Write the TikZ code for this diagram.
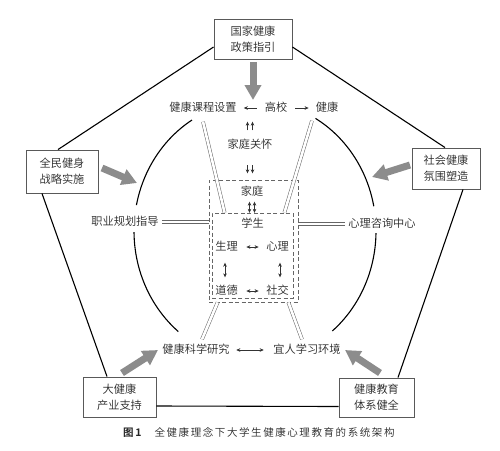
\documentclass[tikz,border=0pt]{standalone}
\usepackage{fontspec}
\setmainfont{Noto Sans CJK SC}[UprightFont=* DemiLight, BoldFont=* Bold]
\usetikzlibrary{arrows.meta}
\begin{document}
\begin{tikzpicture}[x=1pt,y=-1pt,
  every node/.style={font=\fontsize{11.2}{16}\selectfont, inner sep=0pt, text=black!85},
  txt/.style={text height=9pt, text depth=2pt},
  pbox/.style={draw=black!65, line width=0.9pt, align=center, fill=white},
  pent/.style={draw=black, line width=1.1pt},
  arcline/.style={draw=black, line width=1.1pt},
  fat/.style={draw=black!45, line width=7pt, -{Triangle[length=15pt,width=16pt]}},
  dbl/.style={draw=black!60, double=white, double distance=2.6pt, line width=0.5pt},
  sarr/.style={draw=black!80, line width=0.55pt, -{Stealth[length=4pt,width=3.6pt]}},
  barr/.style={draw=black!80, line width=0.55pt, {Stealth[length=4pt,width=3.6pt]}-{Stealth[length=4pt,width=3.6pt]}},
  dbox/.style={draw=black!60, line width=0.8pt, dash pattern=on 4pt off 2.5pt},
]
\useasboundingbox (0,0) rectangle (500,450);

% outer boxes
\node[pbox, minimum width=78pt, minimum height=40pt] (top) at (253,39) {国家健康\\政策指引};
\node[pbox, minimum width=72pt, minimum height=43pt] (lb) at (62,171.5) {全民健身\\战略实施};
\node[pbox, minimum width=68pt, minimum height=41pt] (rb) at (446,168.5) {社会健康\\氛围塑造};
\node[pbox, minimum width=73pt, minimum height=40pt] (bl) at (119.5,397) {大健康\\产业支持};
\node[pbox, minimum width=75pt, minimum height=39pt] (br) at (376.5,397.5) {健康教育\\体系健全};

% pentagon
\draw[pent] ([yshift=-8pt]top.west) -- ([xshift=-4pt]lb.north);
\draw[pent] ([yshift=-8pt]top.east) -- ([xshift=-1pt]rb.north);
\draw[pent] ([xshift=-20pt]lb.south) -- ([xshift=-12.5pt]bl.north);
\draw[pent] ([xshift=17pt]rb.south) -- ([xshift=21.5pt]br.north);
\draw[pent] ([yshift=-9pt]bl.east) -- ([yshift=-9pt]br.west);

% ellipse arcs
\coordinate (ec) at (255,231);
\draw[arcline] ([shift={(238.6:121 and 130)}]ec) arc[start angle=238.6, end angle=191.5, x radius=121, y radius=130];
\draw[arcline] ([shift={(179.5:121 and 130)}]ec) arc[start angle=179.5, end angle=129.3, x radius=121, y radius=130];
\draw[arcline] ([shift={(300:121 and 130)}]ec) arc[start angle=300, end angle=349, x radius=121, y radius=130];
\draw[arcline] ([shift={(0.9:121 and 130)}]ec) arc[start angle=0.9, end angle=50.3, x radius=121, y radius=130];

% inner texts
\node[txt] (kc) at (203,108) {健康课程设置};
\node[txt] (gx) at (276,108) {高校};
\node[txt] (jk) at (327,108) {健康};
\node[txt] (jg) at (250,145) {家庭关怀};
\node[txt] (lc) at (125,222) {职业规划指导};
\node[txt] (rc) at (382,224) {心理咨询中心};
\node[txt] (hs) at (196,350) {健康科学研究};
\node[txt] (yr) at (307,350) {宜人学习环境};

% dashed boxes
\node[dbox, minimum width=89pt, minimum height=122pt] (out) at (253.5,241) {};
\node[dbox, minimum width=81pt, minimum height=85pt] (in) at (252.5,255.5) {};
\node[txt] (jt) at (252,192) {家庭};
\node[txt] (xs) at (252.5,224) {学生};
\node[txt] (sl) at (226.5,247) {生理};
\node[txt] (xl) at (277.5,247) {心理};
\node[txt] (dd) at (226.5,291) {道德};
\node[txt] (sj) at (277.5,291) {社交};

% small arrows
\draw[sarr, shorten <=8pt, shorten >=7pt] (gx) -- (kc);
\draw[sarr, shorten <=8pt, shorten >=7pt] (gx) -- (jk);
\draw[sarr, shorten <=9pt, shorten >=8pt] ([xshift=-2.5pt]jg.north) -- ([xshift=-2.5pt]jg.north |- gx.south);
\draw[sarr, shorten <=9pt, shorten >=8pt] ([xshift=2.5pt]jg.north) -- ([xshift=2.5pt]jg.north |- gx.south);
\draw[sarr, shorten <=14.5pt, shorten >=13pt] ([xshift=-2.5pt]jg.south) -- ([xshift=-2.5pt]jg.south |- jt.north);
\draw[sarr, shorten <=14.5pt, shorten >=13pt] ([xshift=2.5pt]jg.south) -- ([xshift=2.5pt]jg.south |- jt.north);
\draw[barr, shorten <=4pt, shorten >=5.5pt] ([xshift=-2.5pt]jt.south) -- ([xshift=-2.5pt]jt.south |- xs.north);
\draw[barr, shorten <=4pt, shorten >=5.5pt] ([xshift=2.5pt]jt.south) -- ([xshift=2.5pt]jt.south |- xs.north);
\draw[barr, shorten <=8.5pt, shorten >=7.5pt] (sl) -- (xl);
\draw[barr, shorten <=8.5pt, shorten >=7.5pt] (dd) -- (sj);
\draw[barr, shorten <=10pt, shorten >=8pt] ([xshift=-1.5pt]sl.south) -- ([xshift=-1.5pt]dd.north);
\draw[barr, shorten <=10pt, shorten >=8pt] ([xshift=2.5pt]xl.south) -- ([xshift=2.5pt]sj.north);
\draw[barr, shorten <=6.5pt, shorten >=9.5pt] (hs) -- (yr);

% double lines
\draw[dbl] ([yshift=-8pt]kc.south) -- ([xshift=13pt]in.north west);
\draw[dbl] ([xshift=-15pt,yshift=-7pt]jk.south) -- ([xshift=-9pt]in.north east);
\draw[dbl, shorten <=3pt] (lc.east) -- (lc.east -| out.west);
\draw[dbl, shorten <=3pt] (rc.west) -- (rc.west -| out.east);
\draw[dbl] ([xshift=9pt]out.south west) -- ([xshift=6pt,yshift=5pt]hs.north);
\draw[dbl] ([xshift=-10pt]out.south east) -- ([xshift=-5pt,yshift=5pt]yr.north);

% gray fat arrows
\coordinate (tA) at (253,100);
\coordinate (lA0) at (102,168); \coordinate (lA) at (137,183);
\coordinate (rA0) at (410,165); \coordinate (rA) at (372,177);
\coordinate (blA0) at (122,373); \coordinate (blA) at (158,350);
\coordinate (brA0) at (380,373); \coordinate (brA) at (345,350);
\draw[fat, shorten <=3pt] (top.south) -- (tA);
\draw[fat] (lA0) -- (lA);
\draw[fat] (rA0) -- (rA);
\draw[fat] (blA0) -- (blA);
\draw[fat] (brA0) -- (brA);

% caption
\node[anchor=west, font=\fontsize{10.5}{12}\selectfont\addfontfeature{LetterSpace=15}] (cap) at (123,432) {\textbf{图1}\hspace{1.1em}全健康理念下大学生健康心理教育的系统架构};
\end{tikzpicture}
\end{document}
